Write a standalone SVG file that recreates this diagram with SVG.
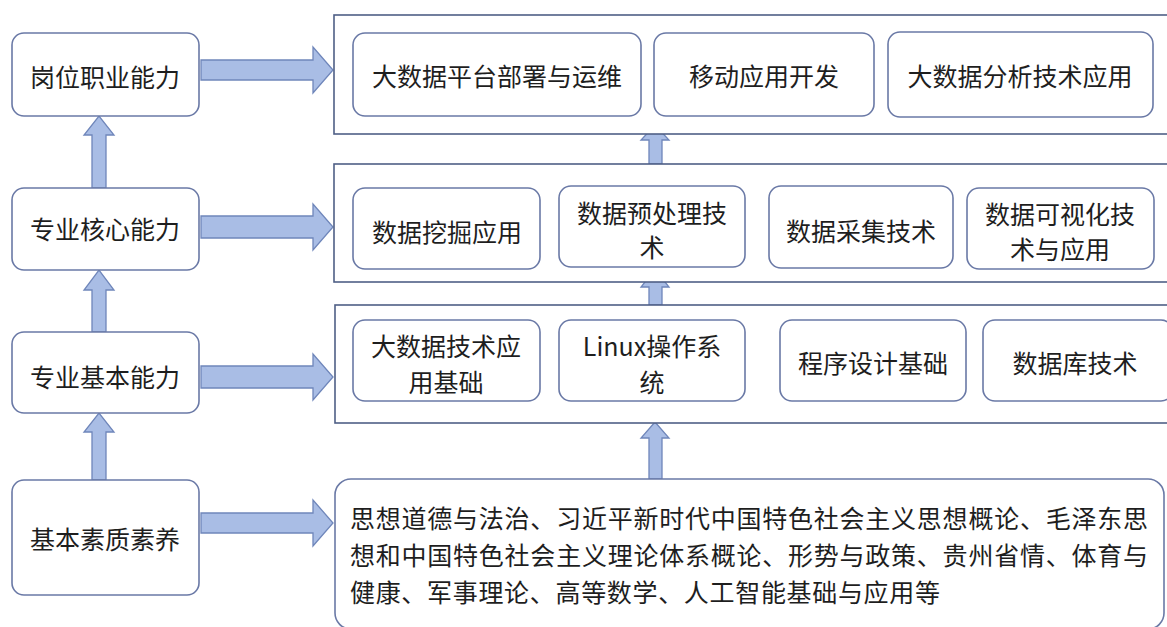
<svg xmlns="http://www.w3.org/2000/svg" width="1167" height="627" viewBox="0 0 1167 627">
<style>
.panel{fill:#fff;stroke:#4f5f86;stroke-width:1.6}
.box{fill:#fff;stroke:#6a79a6;stroke-width:1.6}
.arrow{fill:#a9bde5;stroke:#6f86ba;stroke-width:1.3;stroke-linejoin:miter}
text{font-family:"Noto Sans CJK SC","Microsoft YaHei",sans-serif;font-size:25px;fill:#1e1e1e;text-anchor:middle;dominant-baseline:central}
.para{text-anchor:start;dominant-baseline:auto}
</style>
<rect width="1167" height="627" fill="#fff"/>
<g id="connectors">
<path class="arrow" d="M201,60 H313 V47 L333,70 L313,93 V80 H201 Z"/>
<path class="arrow" d="M201,216 H313 V204 L333,227 L313,250 V238 H201 Z"/>
<path class="arrow" d="M201,366 H313 V354 L333,377 L313,400 V388 H201 Z"/>
<path class="arrow" d="M201,513 H313 V500 L333,523 L313,546 V533 H201 Z"/>
<path class="arrow" d="M92,188 V135 H84 L99,116 L114,135 H106 V188 Z"/>
<path class="arrow" d="M92,332 V290 H84 L99,270 L114,290 H106 V332 Z"/>
<path class="arrow" d="M92,480 V432 H84 L99,413 L114,432 H106 V480 Z"/>
<path class="arrow" d="M649,164 V140 H641 L655,125 L669,140 H662 V164 Z"/>
<path class="arrow" d="M649,305 V287 H641 L655,269 L669,287 H662 V305 Z"/>
<path class="arrow" d="M649,479 V438 H641 L655,422 L669,438 H662 V479 Z"/>
</g>
<g id="n-gangwei"><rect class="box" x="12" y="33" width="187" height="83" rx="12"/><text x="105" y="76">岗位职业能力</text></g>
<g id="n-hexin"><rect class="box" x="12" y="188" width="187" height="82" rx="12"/><text x="105" y="228">专业核心能力</text></g>
<g id="n-jiben"><rect class="box" x="12" y="332" width="187" height="81" rx="12"/><text x="105" y="376">专业基本能力</text></g>
<g id="n-suyang"><rect class="box" x="12" y="480" width="187" height="115" rx="12"/><text x="105" y="538">基本素质素养</text></g>
<g id="p-top">
<rect class="panel" x="334" y="15" width="850" height="119"/>
</g>
<g id="p-mid">
<rect class="panel" x="334" y="164" width="850" height="118"/>
</g>
<g id="p-bot">
<rect class="panel" x="335" y="305" width="850" height="118"/>
</g>
<g id="n-t1"><rect class="box" x="353" y="33" width="288" height="83" rx="12"/><text x="497" y="75">大数据平台部署与运维</text></g>
<g id="n-t2"><rect class="box" x="654" y="33" width="220" height="83" rx="12"/><text x="764" y="75">移动应用开发</text></g>
<g id="n-t3"><rect class="box" x="888" y="32" width="265" height="85" rx="12"/><text x="1020" y="75">大数据分析技术应用</text></g>
<g id="n-m1"><rect class="box" x="353" y="188" width="187" height="81" rx="12"/><text x="447" y="231">数据挖掘应用</text></g>
<g id="n-m2"><rect class="box" x="559" y="186" width="186" height="81" rx="12"/><text x="652" y="212">数据预处理技</text><text x="652" y="246">术</text></g>
<g id="n-m3"><rect class="box" x="769" y="186" width="184" height="82" rx="12"/><text x="861" y="230">数据采集技术</text></g>
<g id="n-m4"><rect class="box" x="967" y="188" width="187" height="81" rx="12"/><text x="1060" y="213">数据可视化技</text><text x="1060" y="248">术与应用</text></g>
<g id="n-b1"><rect class="box" x="353" y="320" width="187" height="81" rx="12"/><text x="446" y="345">大数据技术应</text><text x="446" y="381">用基础</text></g>
<g id="n-b2"><rect class="box" x="559" y="320" width="186" height="81" rx="12"/><text x="652" y="345">Linux操作系</text><text x="652" y="381">统</text></g>
<g id="n-b3"><rect class="box" x="780" y="320" width="186" height="81" rx="12"/><text x="873" y="362">程序设计基础</text></g>
<g id="n-b4"><rect class="box" x="983" y="320" width="190" height="81" rx="12"/><text x="1075" y="362">数据库技术</text></g>
<g id="n-courses"><rect class="box" x="335" y="479" width="829" height="150" rx="16"/>
<text class="para" x="350" y="528" textLength="798" lengthAdjust="spacing">思想道德与法治、习近平新时代中国特色社会主义思想概论、毛泽东思</text>
<text class="para" x="350" y="565" textLength="798" lengthAdjust="spacing">想和中国特色社会主义理论体系概论、形势与政策、贵州省情、体育与</text>
<text class="para" x="350" y="602" textLength="590" lengthAdjust="spacing">健康、军事理论、高等数学、人工智能基础与应用等</text>
</g>
</svg>
